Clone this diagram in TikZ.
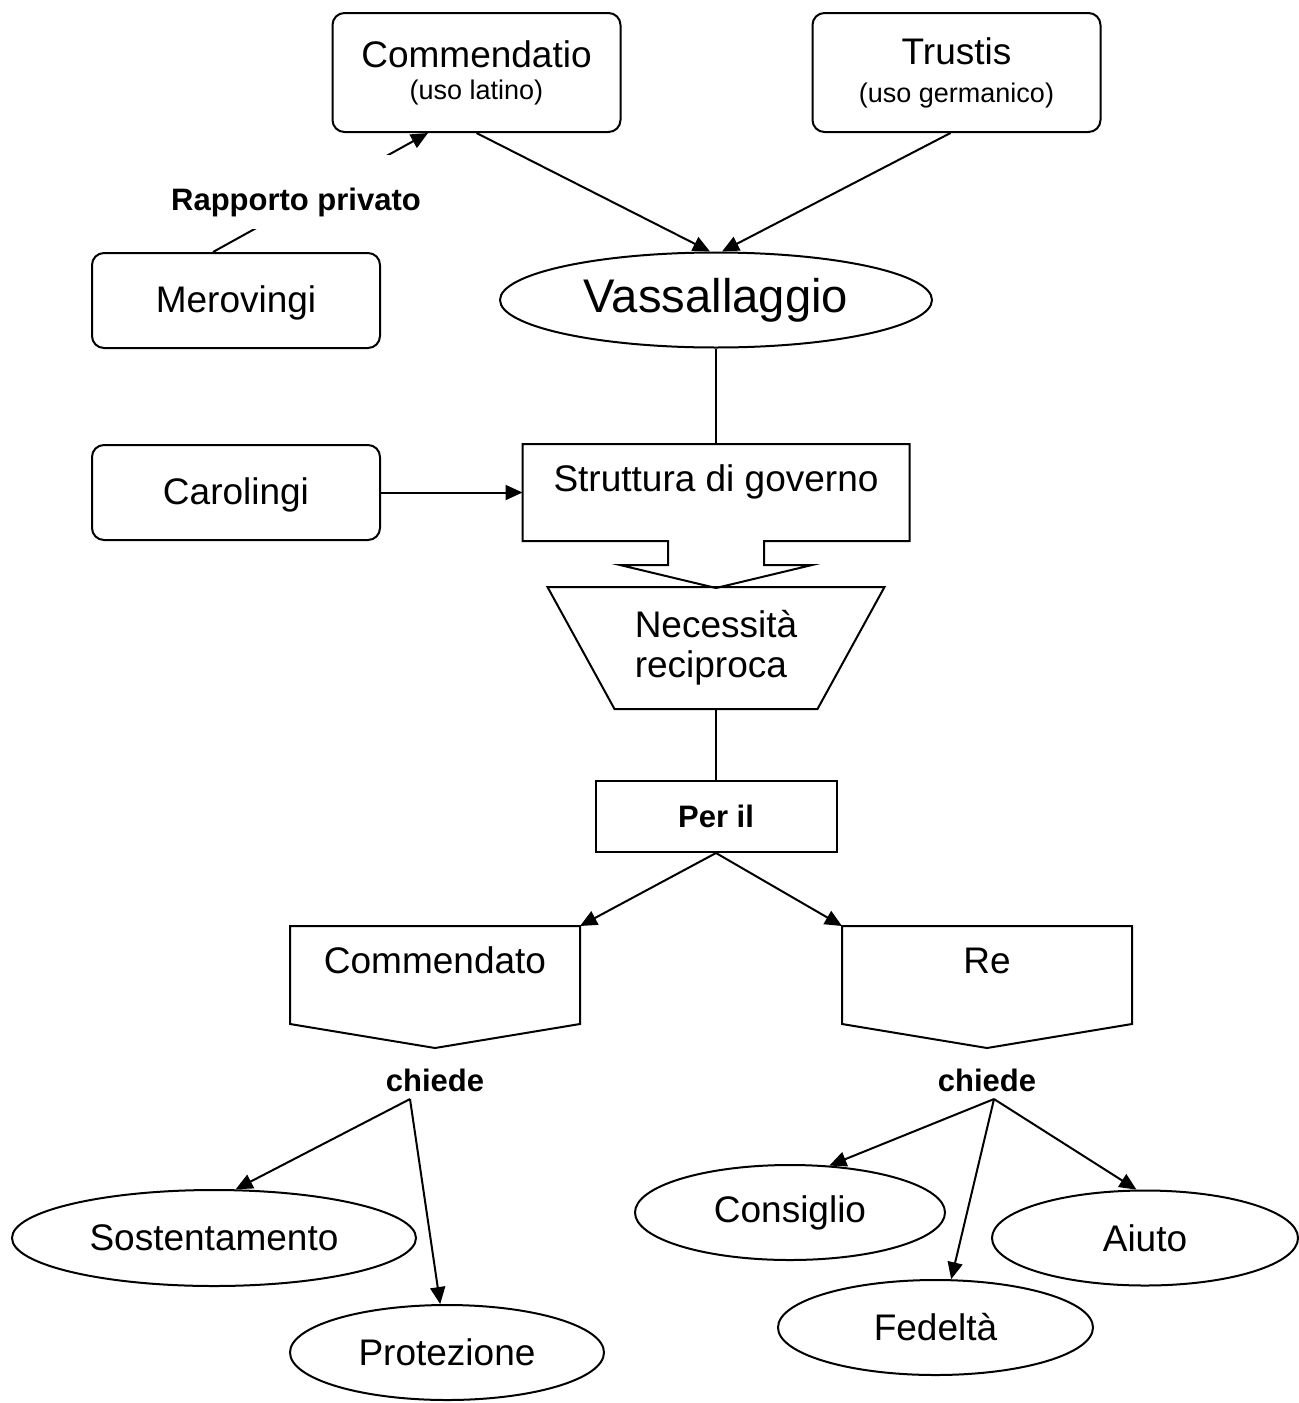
\documentclass[tikz,border=0pt]{standalone}
\usepackage{fontspec}
\setmainfont{Liberation Sans}
\usepackage{tikz}
\usetikzlibrary{arrows.meta,shapes,positioning}
\tikzstyle{box} = [rectangle, draw, rounded corners=6pt, align=center,
    minimum width=144pt, minimum height=47.5pt, font=\fontsize{18.5}{20}\selectfont]
\tikzstyle{hollow} = [rectangle, minimum width=144pt, minimum height=48pt,
    text height=13.5pt, text depth=15pt, font=\fontsize{18.5}{20}\selectfont]
\tikzstyle{frame} = [rectangle, draw, minimum width=120.5pt, minimum height=35.5pt]
\tikzstyle{bubble} = [draw, ellipse, inner sep=2pt, minimum height=47.5pt,
    font=\fontsize{18.5}{20}\selectfont]
\tikzstyle{note} = [font=\fontsize{15.5}{18}\selectfont\bfseries]
\tikzstyle{pointer} = [draw, -{Triangle[length=8.5pt,width=7.5pt]}]

\begin{document}
\begin{tikzpicture}[x=0.5pt, y=-0.5pt, line width=1pt]
  \useasboundingbox (0,0) rectangle (1299,1403);
  % Place nodes
  \node [box, minimum height=59.5pt] (commendatio) at (476.5,72.5)
  {Commendatio\\[-4pt]{\fontsize{13.5}{16}\selectfont (uso latino)}};
  \node [box, minimum height=59.5pt, right of=commendatio, node distance=240pt] (trustis)
  {Trustis\\[-1pt]{\fontsize{13.5}{16}\selectfont (uso germanico)}};
  \node [box, text depth=1pt] (merovingi) at (236,300.5) {Merovingi};
  \node [box, text depth=1pt, below of=merovingi, node distance=96pt] (carolingi) {Carolingi};
  \node [bubble, minimum width=216pt, font=\fontsize{23.6}{26}\selectfont] (vassallaggio)
  at (716,300) {Vassallaggio};
  \node [hollow, minimum width=192.5pt, minimum height=47.5pt, below of=vassallaggio,
  node distance=96.25pt] (struttura) {Struttura di governo};
  \node [rectangle, minimum width=167.5pt, minimum height=60pt, align=left,
  font=\fontsize{18.5}{20}\selectfont, below of=struttura, node distance=77.75pt] (necessita)
  {Necessità\\reciproca};
  \node [frame, note, below of=necessita, node distance=84.25pt] (peril) {Per il};
  \node [hollow] (commendato) at (435,975) {Commendato};
  \node [hollow, right of=commendato, node distance=276pt] (re) {Re};
  \node [note, below of=commendato, node distance=52.5pt] (chiedeL) {chiede};
  \node [note, below of=re, node distance=52.5pt] (chiedeR) {chiede};
  \node [bubble, minimum width=202pt, minimum height=48pt] (sostentamento)
  at (214,1238) {Sostentamento};
  \node [bubble, minimum width=157pt] (protezione) at (447,1352.5) {Protezione};
  \node [bubble, minimum width=155pt] (consiglio) at (790,1212.5) {Consiglio};
  \node [bubble, minimum width=157.5pt] (fedelta) at (935.5,1327.5) {Fedeltà};
  \node [bubble, minimum width=153pt] (aiuto) at (1145,1238) {Aiuto};
  % Draw outlines
  \draw (struttura.south west) -- (struttura.north west) -- (struttura.north east)
  -- (struttura.south east) -- ([xshift=24pt]struttura.south) -- ++(0,24) -- ++(48,0)
  -- ([yshift=-23.5pt]struttura.south) -- ++(-96,-23) -- ++(48,0) -- ++(0,-24) -- cycle;
  \draw (necessita.north west) -- (necessita.north east)
  -- ([xshift=-33.5pt]necessita.south east) -- ([xshift=33.5pt]necessita.south west) -- cycle;
  \draw (commendato.south west) -- (commendato.north west) -- (commendato.north east)
  -- (commendato.south east) -- ([yshift=-12pt]commendato.south) -- cycle;
  \draw (re.south west) -- (re.north west) -- (re.north east)
  -- (re.south east) -- ([yshift=-12pt]re.south) -- cycle;
  % Draw edges
  \draw [pointer] ([xshift=-11.5pt]merovingi.north) -- ([xshift=-24.25pt]commendatio.south);
  \node [note, fill=white, inner sep=0pt, text height=27.5pt, text depth=9.5pt, anchor=base]
  (rapporto) at (296,210) {Rapporto privato};
  \draw [pointer] (commendatio.south) -- ([xshift=-3pt]vassallaggio.north);
  \draw [pointer] ([xshift=-3pt]trustis.south) -- ([xshift=3pt]vassallaggio.north);
  \draw (vassallaggio) -- (struttura);
  \draw [pointer] (carolingi) -- (struttura);
  \draw (necessita) -- (peril);
  \draw [pointer] (peril.south) -- (commendato.north east);
  \draw [pointer] (peril.south) -- (re.north west);
  \draw [pointer] ([xshift=-12.5pt]chiedeL.south) -- (sostentamento.66);
  \draw [pointer] ([xshift=-12.5pt]chiedeL.south) -- (protezione.98);
  \draw [pointer] ([xshift=3.5pt]chiedeR.south) -- (consiglio.50);
  \draw [pointer] ([xshift=3.5pt]chiedeR.south) -- (fedelta.72);
  \draw [pointer] ([xshift=3.5pt]chiedeR.south) -- (aiuto.100);
\end{tikzpicture}
\end{document}
